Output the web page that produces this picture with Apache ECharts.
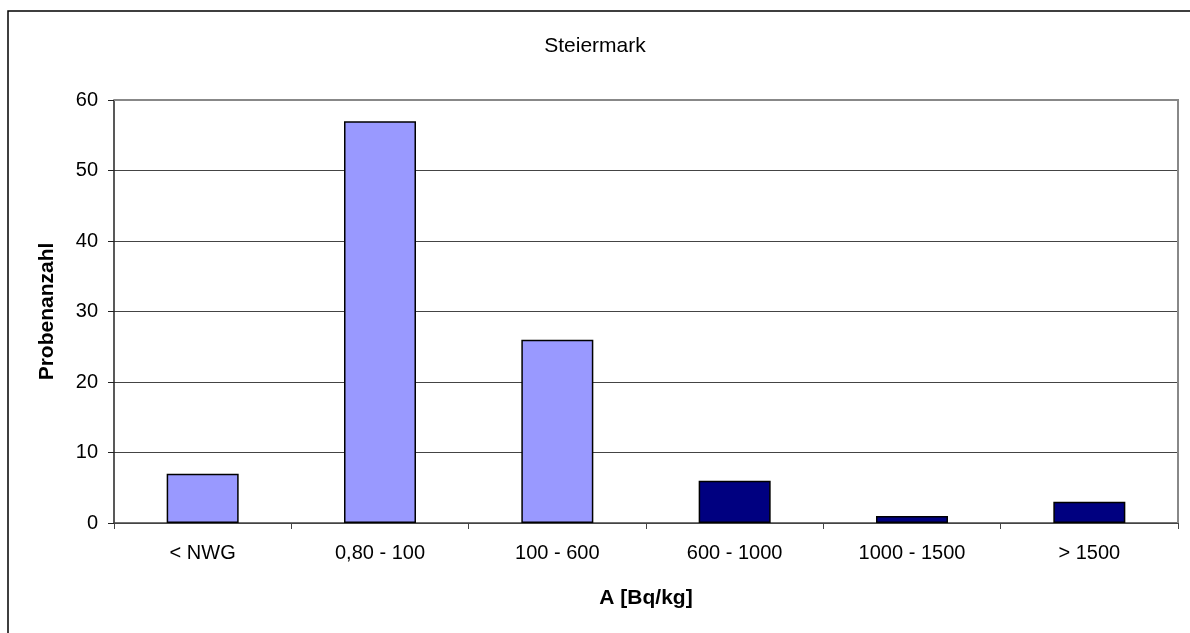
<!DOCTYPE html>
<html>
<head>
<meta charset="utf-8">
<script src="https://cdn.jsdelivr.net/npm/echarts@6/dist/echarts.min.js"></script>
<style>html,body{margin:0;padding:0;background:#fff}#c{width:1190px;height:633px}</style>
</head>
<body>
<div id="c"></div>
<script>
var titleText = 'Steiermark';
var categories = ['< NWG', '0,80 - 100', '100 - 600', '600 - 1000', '1000 - 1500', '> 1500'];
var counts = [7, 57, 26, 6, 1, 3];
var yAxisName = 'Probenanzahl';
var xAxisName = 'A [Bq/kg]';
var yMin = 0, yMax = 60, yStep = 10;

var lightColor = '#9999FF', darkColor = '#000080';
var barColors = [lightColor, lightColor, lightColor, darkColor, darkColor, darkColor];
var font = 'Liberation Sans, Arial, sans-serif';

var chart = echarts.init(document.getElementById('c'), null, {renderer: 'canvas'});
chart.setOption({
  animation: false,
  backgroundColor: '#fff',
  title: {
    text: titleText, left: 'center', top: 31,
    textStyle: {fontFamily: font, fontSize: 21, fontWeight: 'normal', color: '#000'}
  },
  graphic: [
    {type: 'rect', shape: {x: 8, y: 11, width: 1240, height: 700}, style: {fill: null, stroke: '#000', lineWidth: 1.5}, z: 0},
    {type: 'polyline', shape: {points: [[114, 100], [1178, 100], [1178, 523]]}, style: {fill: null, stroke: '#888', lineWidth: 2}, z: 10}
  ],
  grid: {left: 114, right: 12, top: 100, bottom: 110, containLabel: false},
  xAxis: {
    type: 'category',
    data: categories,
    name: xAxisName, nameLocation: 'middle', nameGap: 65,
    nameTextStyle: {fontFamily: font, fontSize: 21, fontWeight: 'bold', color: '#000'},
    axisLine: {lineStyle: {color: '#444', width: 1.5}},
    axisTick: {show: true, alignWithLabel: false, length: 6, inside: false, lineStyle: {color: '#444'}},
    axisLabel: {fontFamily: font, fontSize: 20, color: '#000', margin: 20, interval: 0},
    splitLine: {show: false}
  },
  yAxis: {
    type: 'value', min: yMin, max: yMax, interval: yStep,
    name: yAxisName, nameLocation: 'middle', nameGap: 56, nameRotate: 90,
    nameTextStyle: {fontFamily: font, fontSize: 21, fontWeight: 'bold', color: '#000'},
    axisLine: {show: true, lineStyle: {color: '#222', width: 1.5}},
    axisTick: {show: true, length: 6, lineStyle: {color: '#222'}},
    axisLabel: {fontFamily: font, fontSize: 20, color: '#000', margin: 16},
    splitLine: {show: true, lineStyle: {color: '#444', width: 1}}
  },
  series: [{
    type: 'bar',
    barWidth: '40.6%',
    data: counts.map(function (v, i) {
      return {value: v, itemStyle: {color: barColors[i]}};
    }),
    itemStyle: {borderColor: '#000', borderWidth: 1.5}
  }]
});
</script>
</body>
</html>
